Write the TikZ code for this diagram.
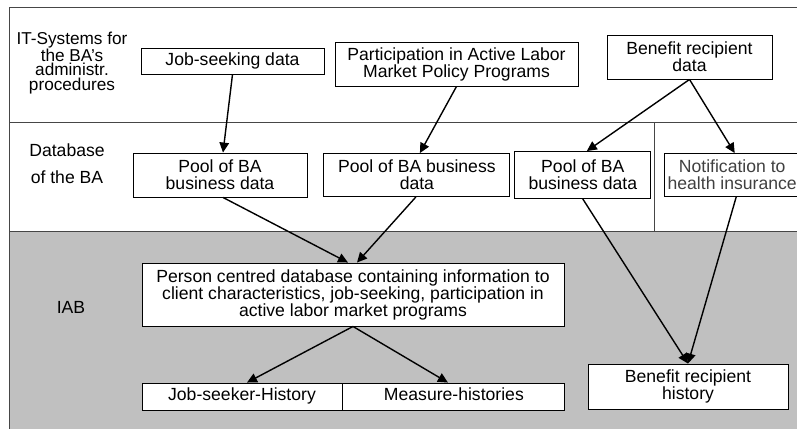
\documentclass[tikz,border=0pt]{standalone}
\usepackage{fontspec}
\setmainfont{Liberation Sans}
\usepackage{xcolor}
\usepackage{tikz}
\usetikzlibrary{arrows.meta, positioning}
\definecolor{iabgray}{RGB}{192,192,192}
\definecolor{rulegray}{RGB}{70,70,70}
\tikzset{
    box/.style={
        rectangle, draw=black, fill=white, line width=0.9pt,
        inner sep=0pt, align=center,
        font=\fontsize{17.6}{17}\selectfont,
    },
    lane/.style={
        align=center, inner sep=0pt,
        font=\fontsize{17.6}{17}\selectfont,
    },
    rule/.style={draw=rulegray, line width=0.9pt},
    flow/.style={-{Triangle[length=10pt,width=9.5pt]}, line width=1.4pt, draw=black},
}

\begin{document}
\begin{tikzpicture}[x=1pt, y=-1pt, node distance=0pt and 16pt]
    \useasboundingbox (0,0) rectangle (797,429);

    % lanes
    \fill[iabgray] (9,231) rectangle (797,429);
    \draw[rule] (797,7) -- (9,7) -- (9,429);
    \draw[rule] (9,122) -- (797,122);
    \draw[rule] (9,231) -- (797,231);
    \draw[rule] (654,122) -- (654,231);

    \node[lane, font=\fontsize{17.2}{14.6}\selectfont] (itlabel) at (72,63)
        {IT-Systems for\\the BA’s\\administr.\\procedures};
    \node[lane] (dblabel) at (67,163.5) {Database\\[10pt]of the BA};
    \node[lane] (iablabel) at (71,307) {IAB};

    % IT systems
    \node[box, minimum width=183pt, minimum height=26pt] (job) at (232.5,61) {Job-seeking data};
    \node[box, minimum width=243pt, minimum height=44pt] (part) at (456.5,64)
        {Participation in Active Labor\\Market Policy Programs};
    \node[box, minimum width=165pt, minimum height=44pt] (ben) at (689.5,57)
        {Benefit recipient\\data};

    % BA database
    \node[box, minimum width=174pt, minimum height=44pt] (pool1) at (220,175)
        {Pool of BA\\business data};
    \node[box, minimum width=186pt, minimum height=43pt, right=of pool1] (pool2)
        {Pool of BA business\\data};
    \node[box, minimum width=136pt, minimum height=47pt, right=4pt of pool2] (pool3)
        {Pool of BA\\business data};
    \node[box, minimum width=135pt, minimum height=43pt, right=13pt of pool3,
          text=black!75] (note) {Notification to\\health insurance};

    % IAB
    \node[box, minimum width=422pt, minimum height=63pt] (person) at (353,294.5)
        {Person centred database containing information to\\client characteristics, job-seeking, participation in\\active labor market programs};
    \node[box, minimum width=200pt, minimum height=27pt] (jsh) at (242,396.5) {\strut Job-seeker-History};
    \node[box, minimum width=222pt, minimum height=27pt, right=of jsh, xshift=-16pt] (meas)
        {\strut Measure-histories};
    \node[box, minimum width=200pt, minimum height=45pt] (benh) at (688,386.5)
        {Benefit recipient\\history};

    \draw[flow] (job.south) -- ([xshift=3pt]pool1.north);
    \draw[flow] (part.south) -- ([xshift=3pt]pool2.north);
    \draw[flow] (ben.south) -- ([xshift=4pt]pool3.north);
    \draw[flow] (ben.south) -- ([xshift=2.5pt]note.north);

    \draw[flow] ([xshift=3pt]pool1.south) -- ([xshift=-5pt]person.north);
    \draw[flow] ([xshift=-1pt]pool2.south) -- ([xshift=4pt]person.north);
    \draw[flow] (pool3.south) -- (benh.north);
    \draw[flow] ([xshift=4pt]note.south) -- (benh.north);

    \draw[flow] (person.south) -- ([xshift=5pt]jsh.north);
    \draw[flow] (person.south) -- ([xshift=-6pt]meas.north);

\end{tikzpicture}
\end{document}
